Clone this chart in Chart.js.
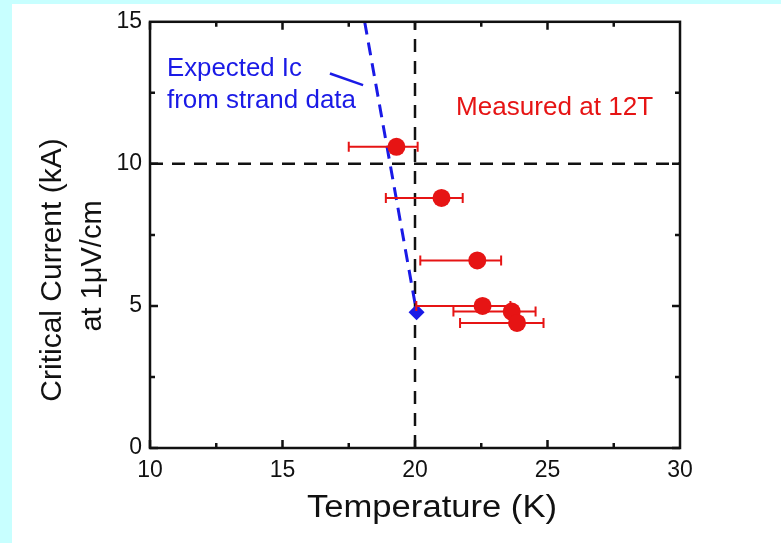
<!DOCTYPE html>
<html><head><meta charset="utf-8">
<script src="https://cdn.jsdelivr.net/npm/chart.js@4.4.1/dist/chart.umd.min.js"></script>
<style>html,body{margin:0;padding:0;background:#fff;overflow:hidden}canvas{display:block}</style>
</head><body><canvas id="c" width="781" height="543"></canvas>
<script>
// ---- data ----
const measuredTemp = [19.3, 21.0, 22.35, 22.55, 23.65, 23.85];
const measuredIc   = [10.6, 8.8, 6.6, 5.0, 4.8, 4.4];
const tempErrLow   = [17.5, 18.9, 20.2, 20.05, 21.45, 21.7];
const tempErrHigh  = [20.1, 21.8, 23.25, 23.6, 24.55, 24.85];
const expectedTemp = [18.1, 20.06];
const expectedIc   = [15.0, 4.78];
const refTemp = 20;
const refIc = 10;
const xTicks = [10, 15, 20, 25, 30];
const yTicks = [0, 5, 10, 15];

const FONT = "'Liberation Sans', Arial, sans-serif";
const RED = '#e61414';
const BLUE = '#1a1ae6';

const toXY = (xs, ys) => xs.map((x, i) => ({x, y: ys[i]}));

const bgPlugin = {
  id: 'bg',
  beforeDraw(chart) {
    const ctx = chart.ctx;
    ctx.save();
    ctx.fillStyle = '#ffffff';
    ctx.fillRect(0, 0, chart.width, chart.height);
    ctx.fillStyle = '#c8ffff';
    ctx.fillRect(0, 0, chart.width, 4);
    ctx.fillRect(0, 0, 12, chart.height);
    ctx.restore();
  }
};

const errPlugin = {
  id: 'errbars',
  beforeDatasetDraw(chart, args) {
    if (args.index !== 0) return;
    const ctx = chart.ctx, xs = chart.scales.x, ys = chart.scales.y;
    ctx.save();
    ctx.strokeStyle = RED;
    ctx.lineWidth = 2;
    measuredIc.forEach((v, i) => {
      const y = ys.getPixelForValue(v);
      const x1 = xs.getPixelForValue(tempErrLow[i]);
      const x2 = xs.getPixelForValue(tempErrHigh[i]);
      ctx.beginPath();
      ctx.moveTo(x1, y); ctx.lineTo(x2, y);
      ctx.moveTo(x1, y - 5); ctx.lineTo(x1, y + 5);
      ctx.moveTo(x2, y - 5); ctx.lineTo(x2, y + 5);
      ctx.stroke();
    });
    ctx.restore();
  }
};

function drawText(ctx, text, x, y, font, color, targetW, align) {
  ctx.save();
  ctx.font = font;
  ctx.fillStyle = color;
  ctx.textBaseline = 'alphabetic';
  const w = ctx.measureText(text).width;
  const s = targetW ? targetW / w : 1;
  ctx.translate(x, y);
  ctx.scale(s, 1);
  ctx.textAlign = align || 'left';
  ctx.fillText(text, 0, 0);
  ctx.restore();
}

const framePlugin = {
  id: 'frame',
  afterDatasetsDraw(chart) {
    const ctx = chart.ctx, a = chart.chartArea, xs = chart.scales.x, ys = chart.scales.y;
    ctx.save();
    ctx.strokeStyle = '#111';
    ctx.lineWidth = 2.5;
    ctx.strokeRect(a.left, a.top, a.right - a.left, a.bottom - a.top);
    const xv = [];
    for (let i = 0; i < xTicks.length - 1; i++) { xv.push([xTicks[i], 8]); xv.push([(xTicks[i] + xTicks[i+1]) / 2, 5]); }
    const yv = [];
    for (let i = 0; i < yTicks.length - 1; i++) { yv.push([yTicks[i], 8]); yv.push([(yTicks[i] + yTicks[i+1]) / 2, 5]); }
    ctx.beginPath();
    xv.forEach(([v, l]) => {
      const p = xs.getPixelForValue(v);
      ctx.moveTo(p, a.bottom); ctx.lineTo(p, a.bottom - l);
      ctx.moveTo(p, a.top); ctx.lineTo(p, a.top + l);
    });
    yv.forEach(([v, l]) => {
      const p = ys.getPixelForValue(v);
      ctx.moveTo(a.left, p); ctx.lineTo(a.left + l, p);
      ctx.moveTo(a.right, p); ctx.lineTo(a.right - l, p);
    });
    ctx.stroke();

    // annotation leader line
    ctx.strokeStyle = BLUE;
    ctx.lineWidth = 2.5;
    ctx.beginPath();
    ctx.moveTo(xs.getPixelForValue(16.79), ys.getPixelForValue(13.18));
    ctx.lineTo(xs.getPixelForValue(18.04), ys.getPixelForValue(12.77));
    ctx.stroke();
    ctx.restore();

    drawText(ctx, 'Expected Ic', xs.getPixelForValue(10.64), ys.getPixelForValue(13.08), '25px ' + FONT, BLUE, 135);
    drawText(ctx, 'from strand data', xs.getPixelForValue(10.64), ys.getPixelForValue(11.96), '25px ' + FONT, BLUE, 189);
    drawText(ctx, 'Measured at 12T', xs.getPixelForValue(21.55), ys.getPixelForValue(11.72), '25px ' + FONT, RED, 197);

    // axis titles
    drawText(ctx, 'Temperature (K)', 432, 517, '31px ' + FONT, '#111', 250, 'center');
    ctx.save();
    ctx.translate(61, 270);
    ctx.rotate(-Math.PI / 2);
    drawText(ctx, 'Critical Current (kA)', 0, 0, '30px ' + FONT, '#111', null, 'center');
    ctx.restore();
    ctx.save();
    ctx.translate(101, 266);
    ctx.rotate(-Math.PI / 2);
    drawText(ctx, 'at 1\u03bcV/cm', 0, 0, '29px ' + FONT, '#111', null, 'center');
    ctx.restore();
  }
};

new Chart(document.getElementById('c'), {
  type: 'scatter',
  data: {
    datasets: [
      {
        label: 'Measured at 12T',
        data: toXY(measuredTemp, measuredIc),
        backgroundColor: RED, borderColor: RED,
        pointRadius: 9, pointHoverRadius: 9, pointBorderWidth: 0,
        showLine: false, order: 0
      },
      {
        label: 'Expected point',
        data: [{x: expectedTemp[1], y: expectedIc[1]}],
        backgroundColor: BLUE, borderColor: BLUE,
        pointStyle: 'rectRot', pointRadius: 8, pointBorderWidth: 0,
        showLine: false, order: 1
      },
      {
        label: 'Expected Ic from strand data',
        data: toXY(expectedTemp, expectedIc),
        borderColor: BLUE, borderWidth: 3, borderDash: [13, 8],
        pointRadius: 0, showLine: true, fill: false, order: 2
      },
      {
        label: 'T ref',
        data: [{x: refTemp, y: yTicks[0]}, {x: refTemp, y: yTicks[yTicks.length - 1]}],
        borderColor: '#111', borderWidth: 2.5, borderDash: [13, 9],
        pointRadius: 0, showLine: true, fill: false, order: 3
      },
      {
        label: 'Ic ref',
        data: [{x: xTicks[0], y: refIc}, {x: xTicks[xTicks.length - 1], y: refIc}],
        borderColor: '#111', borderWidth: 2.5, borderDash: [13, 9],
        pointRadius: 0, showLine: true, fill: false, order: 3
      }
    ]
  },
  options: {
    responsive: false,
    animation: false,
    layout: { padding: { left: 0, top: 18, right: 101, bottom: 0 } },
    plugins: { legend: { display: false }, tooltip: { enabled: false } },
    scales: {
      x: {
        type: 'linear', min: 10, max: 30,
        afterFit(s) { s.height = 95; },
        grid: { display: false, drawTicks: false },
        border: { display: false },
        ticks: { stepSize: 5, padding: 9, color: '#111', font: { family: FONT, size: 23 } },
        title: { display: false }
      },
      y: {
        type: 'linear', min: 0, max: 15,
        afterFit(s) { s.width = 150; },
        grid: { display: false, drawTicks: false },
        border: { display: false },
        ticks: { stepSize: 5, padding: 8, color: '#111', font: { family: FONT, size: 23 } },
        title: { display: false }
      }
    }
  },
  plugins: [bgPlugin, errPlugin, framePlugin]
});
</script>
</body></html>
